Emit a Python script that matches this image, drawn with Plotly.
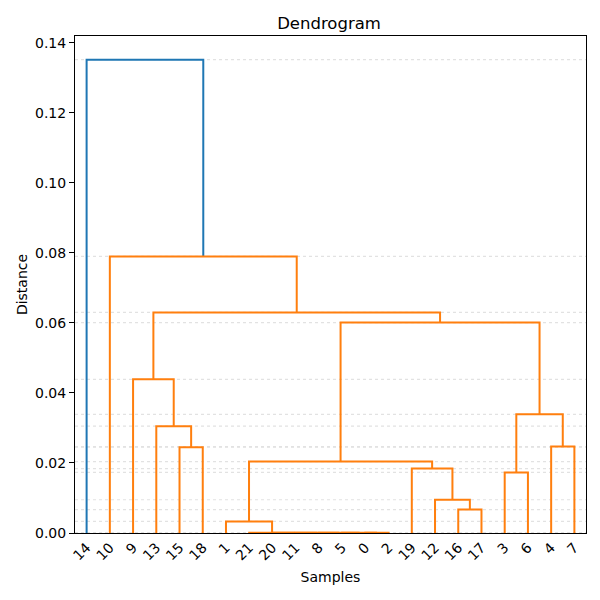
import plotly.graph_objs as go

# leaf labels are sample ids 0..21; merged clusters get ids 22, 23, ... (scipy-style)
n_leaves = 22
merge_left = [0, 5, 8, 11, 20, 21, 1, 16, 12, 3, 19, 28, 15, 4, 13, 31, 9, 33, 38, 10, 14]
merge_right = [2, 22, 23, 24, 25, 26, 27, 17, 29, 6, 30, 32, 18, 7, 34, 35, 36, 37, 39, 40, 41]
merge_height = [0.0001, 0.0001, 0.0001, 0.0001, 0.0001, 0.0001, 0.0033, 0.0067, 0.0095,
                0.0173, 0.0184, 0.0204, 0.0245, 0.0247, 0.0305, 0.0339, 0.0439, 0.0601,
                0.0630, 0.0790, 0.1352]
# colour group per merge: 0 = above threshold (blue), 1 = cluster (orange)
merge_group = [1] * 20 + [0]
group_colors = ["#1f77b4", "#ff7f0e"]

y_ticks = [0.00, 0.02, 0.04, 0.06, 0.08, 0.10, 0.12, 0.14]


def leaf_order(node):
    """Left-to-right order of leaves under a node."""
    if node < n_leaves:
        return [node]
    m = node - n_leaves
    return leaf_order(merge_left[m]) + leaf_order(merge_right[m])


root = n_leaves + len(merge_height) - 1
order = leaf_order(root)
leaf_x = {leaf: 5 + 10 * i for i, leaf in enumerate(order)}

# x centre and height of every node
node_x = dict(leaf_x)
node_y = {leaf: 0.0 for leaf in order}
for m in range(len(merge_height)):
    a, b = merge_left[m], merge_right[m]
    node_x[n_leaves + m] = (node_x[a] + node_x[b]) / 2
    node_y[n_leaves + m] = merge_height[m]

fig = go.Figure()

# dotted guide lines at each merge height
for h in merge_height:
    fig.add_shape(type="line", xref="x domain", yref="y", x0=0, x1=1, y0=h, y1=h,
                  line=dict(color="#e2e2e2", width=1.2, dash="dot"), layer="below")

for g, color in enumerate(group_colors):
    xs, ys = [], []
    for m in range(len(merge_height)):
        if merge_group[m] != g:
            continue
        a, b = merge_left[m], merge_right[m]
        h = merge_height[m]
        xs += [node_x[a], node_x[a], node_x[b], node_x[b], None]
        ys += [node_y[a], h, h, node_y[b], None]
    fig.add_trace(go.Scatter(x=xs, y=ys, mode="lines", showlegend=False,
                             line=dict(color=color, width=2), hoverinfo="skip"))

font = dict(family="DejaVu Sans", size=14, color="black")
# the page adds an 8px body margin, so margins are shifted to compensate
fig.update_layout(
    width=600, height=600,
    margin=dict(l=67, r=22, t=28, b=75),
    plot_bgcolor="white", paper_bgcolor="white",
    font=font,
    title=dict(text="Dendrogram", x=0.535, xanchor="center", y=0.975, yanchor="middle",
               font=dict(family="DejaVu Sans", size=16.5, color="black")),
    showlegend=False,
)
fig.update_xaxes(
    range=[0, 10 * n_leaves],
    tickvals=[leaf_x[l] for l in order], ticktext=[str(l) for l in order],
    tickangle=-45, ticks="", showgrid=False, zeroline=False, automargin=False,
    showline=True, mirror=True, linecolor="black", linewidth=1,
    title=dict(text="Samples", standoff=9, font=font), tickfont=font,
)
fig.update_yaxes(
    range=[0, max(merge_height) * 1.05],
    tickvals=y_ticks, tickformat=".2f", ticks="outside", ticklen=5, tickcolor="black",
    showgrid=False, zeroline=False, automargin=False,
    showline=True, mirror=True, linecolor="black", linewidth=1,
    title=dict(text="Distance", standoff=4, font=font), tickfont=font,
)

fig.write_html("out.html")
